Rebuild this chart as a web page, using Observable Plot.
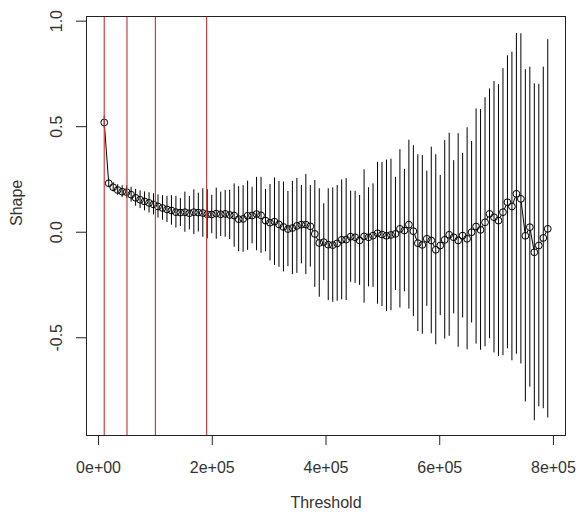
<!DOCTYPE html>
<html>
<head>
<meta charset="utf-8">
<script src="https://cdn.jsdelivr.net/npm/d3@7"></script>
<script src="https://cdn.jsdelivr.net/npm/@observablehq/plot@0.6"></script>
<style>
  html, body { margin: 0; padding: 0; background: #ffffff; }
  #chart { width: 579px; height: 516px; }
</style>
</head>
<body>
<div id="chart"></div>
<script>
// Thresholds (100 values from 1e4 to 7.9e5)
const threshold = [
  10000, 17879, 25758, 33636, 41515, 49394, 57273, 65152, 73030, 80909,
  88788, 96667, 104545, 112424, 120303, 128182, 136061, 143939, 151818, 159697,
  167576, 175455, 183333, 191212, 199091, 206970, 214848, 222727, 230606, 238485,
  246364, 254242, 262121, 270000, 277879, 285758, 293636, 301515, 309394, 317273,
  325152, 333030, 340909, 348788, 356667, 364545, 372424, 380303, 388182, 396061,
  403939, 411818, 419697, 427576, 435455, 443333, 451212, 459091, 466970, 474848,
  482727, 490606, 498485, 506364, 514242, 522121, 530000, 537879, 545758, 553636,
  561515, 569394, 577273, 585152, 593030, 600909, 608788, 616667, 624545, 632424,
  640303, 648182, 656061, 663939, 671818, 679697, 687576, 695455, 703333, 711212,
  719091, 726970, 734848, 742727, 750606, 758485, 766364, 774242, 782121, 790000
];

// Estimated shape parameter
const shape = [
  0.520, 0.232, 0.213, 0.200, 0.192, 0.190, 0.178, 0.163, 0.154, 0.146,
  0.139, 0.132, 0.122, 0.115, 0.108, 0.103, 0.095, 0.093, 0.095, 0.090,
  0.095, 0.093, 0.091, 0.085, 0.084, 0.088, 0.085, 0.087, 0.082, 0.079,
  0.062, 0.063, 0.078, 0.079, 0.086, 0.080, 0.055, 0.045, 0.050, 0.037,
  0.025, 0.015, 0.020, 0.030, 0.036, 0.036, 0.028, -0.008, -0.051, -0.047,
  -0.059, -0.061, -0.053, -0.036, -0.035, -0.021, -0.024, -0.039, -0.020, -0.024,
  -0.016, -0.005, -0.011, -0.017, -0.013, -0.008, 0.016, 0.008, 0.036, 0.005,
  -0.052, -0.060, -0.031, -0.039, -0.083, -0.063, -0.036, -0.012, -0.024, -0.039,
  -0.016, -0.031, 0.000, 0.027, 0.011, 0.047, 0.087, 0.071, 0.055, 0.095,
  0.142, 0.122, 0.182, 0.158, -0.017, 0.024, -0.095, -0.063, -0.027, 0.016
];

// Half-width of the confidence interval
const ciHalf = [
  0.030, 0.020, 0.022, 0.025, 0.028, 0.030, 0.035, 0.040, 0.042, 0.045,
  0.048, 0.050, 0.055, 0.058, 0.062, 0.070, 0.075, 0.066, 0.095, 0.079,
  0.106, 0.092, 0.115, 0.117, 0.091, 0.121, 0.105, 0.111, 0.117, 0.150,
  0.154, 0.158, 0.164, 0.134, 0.174, 0.180, 0.148, 0.181, 0.207, 0.203,
  0.213, 0.178, 0.221, 0.225, 0.186, 0.237, 0.193, 0.253, 0.257, 0.182,
  0.265, 0.271, 0.274, 0.284, 0.289, 0.216, 0.218, 0.213, 0.316, 0.235,
  0.245, 0.336, 0.341, 0.359, 0.359, 0.268, 0.375, 0.290, 0.400, 0.405,
  0.419, 0.423, 0.320, 0.442, 0.450, 0.332, 0.470, 0.481, 0.363, 0.506,
  0.390, 0.526, 0.430, 0.557, 0.570, 0.590, 0.592, 0.643, 0.644, 0.680,
  0.694, 0.731, 0.760, 0.782, 0.787, 0.758, 0.798, 0.764, 0.809, 0.896
];

// Red reference thresholds
const refLines = [10000, 50000, 100000, 190000];

const xTicks = [0, 200000, 400000, 600000, 800000];
const yTicks = [-0.5, 0.0, 0.5, 1.0];

const data = threshold.map((t, i) => ({
  t, s: shape[i], lo: shape[i] - ciHalf[i], hi: shape[i] + ciHalf[i]
}));

const fmtX = d => {
  if (d === 0) return "0e+00";
  const e = Math.floor(Math.log10(d));
  const m = Math.round(d / Math.pow(10, e));
  return `${m}e+${String(e).padStart(2, "0")}`;
};

const textColor = "#333";

const chart = Plot.plot({
  width: 579,
  height: 516,
  marginLeft: 86,
  marginRight: 14,
  marginTop: 16,
  marginBottom: 81,
  style: { fontFamily: "'Liberation Sans', Arial, sans-serif", fontSize: "16px", background: "#ffffff", color: textColor },
  x: { domain: [-21200, 821200] },
  y: { domain: [-0.963, 1.022] },
  marks: [
    Plot.line(data, { x: "t", y: "s", stroke: "#000", strokeWidth: 1 }),
    Plot.dot(data, { x: "t", y: "s", r: 3.4, fill: "#ffffff", stroke: "none" }),
    Plot.dot(data, { x: "t", y: "s", r: 3.4, fill: "none", stroke: "#000", strokeWidth: 1 }),
    Plot.ruleX(data, { x: "t", y1: "lo", y2: "hi", stroke: "#000", strokeWidth: 1 }),
    Plot.ruleX(refLines, { x: d => d, stroke: "#cf4040", strokeWidth: 1.2 }),
    Plot.frame({ stroke: "#222", strokeWidth: 1 }),
    Plot.axisX({ ticks: xTicks, tickFormat: fmtX, tickSize: 10, tickPadding: 16, fontSize: 16, label: null, stroke: "#222", fill: textColor }),
    Plot.axisY({ ticks: yTicks, tickFormat: d => d.toFixed(1), tickSize: 10, tickPadding: 15, tickRotate: -90, fontSize: 16, label: null, stroke: "#222", fill: textColor }),
    Plot.text(["Threshold"], { frameAnchor: "bottom", dy: 72, text: d => d, fontSize: 16, fill: textColor }),
    Plot.text(["Shape"], { frameAnchor: "left", dx: -70, rotate: -90, text: d => d, fontSize: 16, fill: textColor })
  ]
});

document.getElementById("chart").appendChild(chart);
</script>
</body>
</html>
